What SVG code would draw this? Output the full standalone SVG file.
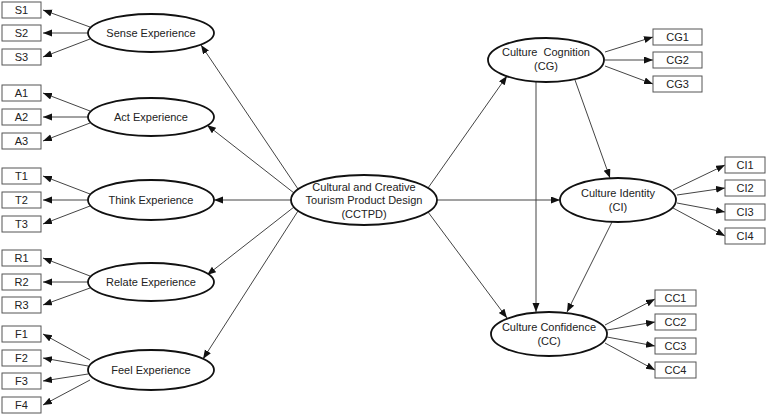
<svg xmlns="http://www.w3.org/2000/svg" width="767" height="415" viewBox="0 0 767 415">
<defs>
<marker id="ah" markerUnits="userSpaceOnUse" markerWidth="10" markerHeight="8" refX="9" refY="3.5" orient="auto">
<path d="M0,0 L9,3.5 L0,7 z" fill="#111"/>
</marker>
<style>
.e{fill:#fff;stroke:#111;stroke-width:1.8}
.b{fill:#fff;stroke:#555;stroke-width:1}
.t{font-family:"Liberation Sans",Arial,sans-serif;font-size:11px;fill:#222;text-anchor:middle}
.c line{stroke:#444;stroke-width:1;marker-end:url(#ah)}
</style>
</defs>
<rect width="767" height="415" fill="#fff"/>
<g class="c" id="connectors">
<line x1="298" y1="189" x2="201" y2="45"/>
<line x1="294" y1="193" x2="207" y2="125"/>
<line x1="291" y1="200" x2="214" y2="200"/>
<line x1="294" y1="207" x2="207" y2="275"/>
<line x1="298" y1="211" x2="203" y2="359"/>
<line x1="428" y1="188" x2="507" y2="76"/>
<line x1="437" y1="200" x2="560" y2="200"/>
<line x1="428" y1="212" x2="507" y2="318"/>
<line x1="536" y1="82" x2="536" y2="312"/>
<line x1="575" y1="80" x2="610" y2="178"/>
<line x1="612" y1="222" x2="567" y2="312"/>
<line x1="90" y1="27" x2="43" y2="10"/>
<line x1="88" y1="33" x2="43" y2="33"/>
<line x1="90" y1="39" x2="43" y2="57"/>
<line x1="90" y1="111" x2="43" y2="93"/>
<line x1="88" y1="117" x2="43" y2="117"/>
<line x1="90" y1="123" x2="43" y2="141"/>
<line x1="90" y1="194" x2="43" y2="176"/>
<line x1="88" y1="200" x2="43" y2="200"/>
<line x1="90" y1="206" x2="43" y2="224"/>
<line x1="90" y1="276" x2="43" y2="258"/>
<line x1="88" y1="282" x2="43" y2="282"/>
<line x1="90" y1="288" x2="43" y2="305"/>
<line x1="90" y1="360" x2="43" y2="334"/>
<line x1="88" y1="366" x2="43" y2="358"/>
<line x1="88" y1="374" x2="43" y2="381"/>
<line x1="90" y1="380" x2="43" y2="405"/>
<line x1="605" y1="52" x2="653" y2="37"/>
<line x1="605" y1="60" x2="653" y2="60"/>
<line x1="605" y1="66" x2="653" y2="84"/>
<line x1="673" y1="190" x2="725" y2="165"/>
<line x1="677" y1="195" x2="725" y2="188"/>
<line x1="677" y1="203" x2="725" y2="212"/>
<line x1="673" y1="208" x2="725" y2="236"/>
<line x1="605" y1="325" x2="655" y2="299"/>
<line x1="607" y1="330" x2="655" y2="322"/>
<line x1="607" y1="337" x2="655" y2="346"/>
<line x1="605" y1="343" x2="655" y2="370"/>
</g>
<g id="sense"><ellipse class="e" cx="151" cy="33" rx="63" ry="19"/><text class="t" x="151" y="37">Sense Experience</text></g>
<g id="act"><ellipse class="e" cx="151" cy="117" rx="63" ry="19"/><text class="t" x="151" y="121">Act Experience</text></g>
<g id="think"><ellipse class="e" cx="151" cy="200" rx="63" ry="20"/><text class="t" x="151" y="204">Think Experience</text></g>
<g id="relate"><ellipse class="e" cx="151" cy="282" rx="63" ry="19"/><text class="t" x="151" y="286">Relate Experience</text></g>
<g id="feel"><ellipse class="e" cx="151" cy="370" rx="63" ry="20"/><text class="t" x="151" y="374">Feel Experience</text></g>
<g id="cctpd"><ellipse class="e" cx="364" cy="200" rx="73" ry="25"/><text class="t" x="364" y="191">Cultural and Creative</text><text class="t" x="364" y="204">Tourism Product Design</text><text class="t" x="364" y="218">(CCTPD)</text></g>
<g id="cg"><ellipse class="e" cx="546" cy="60" rx="58" ry="22"/><text class="t" x="546" y="56" style="word-spacing:3px">Culture Cognition</text><text class="t" x="546" y="70">(CG)</text></g>
<g id="ci"><ellipse class="e" cx="618" cy="200" rx="58" ry="22"/><text class="t" x="618" y="197">Culture Identity</text><text class="t" x="618" y="211">(CI)</text></g>
<g id="cc"><ellipse class="e" cx="549" cy="334" rx="58" ry="22"/><text class="t" x="549" y="331">Culture Confidence</text><text class="t" x="549" y="345">(CC)</text></g>
<g id="S1"><rect class="b" x="2" y="2" width="39" height="16"/><text class="t" x="21.5" y="14">S1</text></g>
<g id="S2"><rect class="b" x="2" y="25" width="39" height="16"/><text class="t" x="21.5" y="37">S2</text></g>
<g id="S3"><rect class="b" x="2" y="49" width="39" height="16"/><text class="t" x="21.5" y="61">S3</text></g>
<g id="A1"><rect class="b" x="2" y="85" width="39" height="16"/><text class="t" x="21.5" y="97">A1</text></g>
<g id="A2"><rect class="b" x="2" y="109" width="39" height="16"/><text class="t" x="21.5" y="121">A2</text></g>
<g id="A3"><rect class="b" x="2" y="133" width="39" height="16"/><text class="t" x="21.5" y="145">A3</text></g>
<g id="T1"><rect class="b" x="2" y="168" width="39" height="16"/><text class="t" x="21.5" y="180">T1</text></g>
<g id="T2"><rect class="b" x="2" y="192" width="39" height="16"/><text class="t" x="21.5" y="204">T2</text></g>
<g id="T3"><rect class="b" x="2" y="216" width="39" height="16"/><text class="t" x="21.5" y="228">T3</text></g>
<g id="R1"><rect class="b" x="2" y="250" width="39" height="16"/><text class="t" x="21.5" y="262">R1</text></g>
<g id="R2"><rect class="b" x="2" y="274" width="39" height="16"/><text class="t" x="21.5" y="286">R2</text></g>
<g id="R3"><rect class="b" x="2" y="297" width="39" height="16"/><text class="t" x="21.5" y="309">R3</text></g>
<g id="F1"><rect class="b" x="2" y="326" width="39" height="16"/><text class="t" x="21.5" y="338">F1</text></g>
<g id="F2"><rect class="b" x="2" y="350" width="39" height="16"/><text class="t" x="21.5" y="362">F2</text></g>
<g id="F3"><rect class="b" x="2" y="373" width="39" height="16"/><text class="t" x="21.5" y="385">F3</text></g>
<g id="F4"><rect class="b" x="2" y="397" width="39" height="16"/><text class="t" x="21.5" y="409">F4</text></g>
<g id="CG1"><rect class="b" x="653" y="29" width="49" height="16"/><text class="t" x="677.5" y="41">CG1</text></g>
<g id="CG2"><rect class="b" x="653" y="52" width="49" height="16"/><text class="t" x="677.5" y="64">CG2</text></g>
<g id="CG3"><rect class="b" x="653" y="76" width="49" height="16"/><text class="t" x="677.5" y="88">CG3</text></g>
<g id="CI1"><rect class="b" x="725" y="157" width="40" height="16"/><text class="t" x="745" y="169">CI1</text></g>
<g id="CI2"><rect class="b" x="725" y="180" width="40" height="16"/><text class="t" x="745" y="192">CI2</text></g>
<g id="CI3"><rect class="b" x="725" y="204" width="40" height="16"/><text class="t" x="745" y="216">CI3</text></g>
<g id="CI4"><rect class="b" x="725" y="228" width="40" height="16"/><text class="t" x="745" y="240">CI4</text></g>
<g id="CC1"><rect class="b" x="655" y="290" width="41" height="16"/><text class="t" x="675.5" y="302">CC1</text></g>
<g id="CC2"><rect class="b" x="655" y="314" width="41" height="16"/><text class="t" x="675.5" y="326">CC2</text></g>
<g id="CC3"><rect class="b" x="655" y="338" width="41" height="16"/><text class="t" x="675.5" y="350">CC3</text></g>
<g id="CC4"><rect class="b" x="655" y="362" width="41" height="16"/><text class="t" x="675.5" y="374">CC4</text></g>
</svg>
